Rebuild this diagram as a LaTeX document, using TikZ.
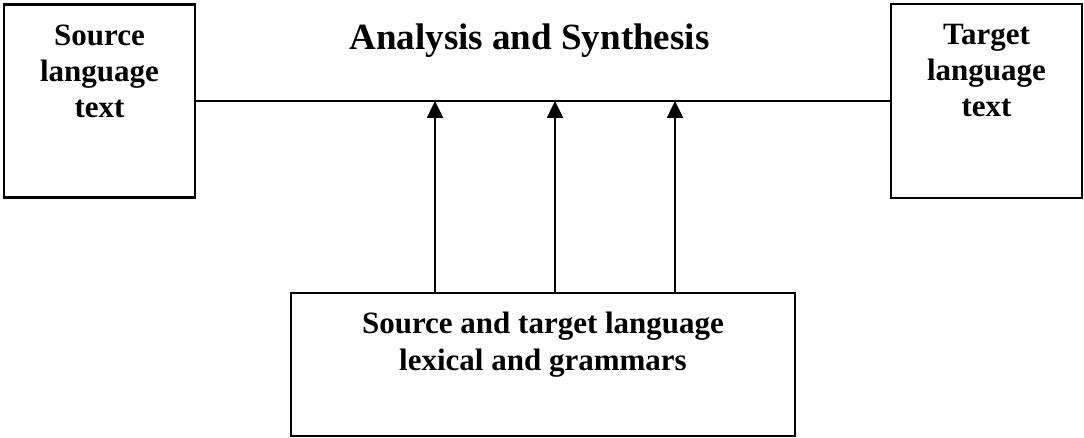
\documentclass[tikz,border=0pt]{standalone}
\usepackage{fontspec}
\setmainfont{Liberation Serif}
\usetikzlibrary{arrows.meta}
\tikzset{
  box/.style={draw, line width=2.8pt, rectangle, inner sep=0pt},
  lbl/.style={font=\fontsize{31}{36}\selectfont\bfseries, align=center, anchor=base, inner sep=0pt},
  link/.style={line width=2pt},
  arr/.style={line width=2.5pt, -{Triangle[length=17pt,width=16pt]}}
}
\begin{document}
\begin{tikzpicture}[x=1pt,y=-1pt]
\useasboundingbox (0,0) rectangle (1084,438);
\node[box, minimum width=191pt, minimum height=193pt] (L) at (99.5,101) {};
\node[box, minimum width=191pt, minimum height=194pt] (R) at (986.5,101) {};
\node[box, minimum width=504pt, minimum height=143pt] (B) at (543,364.5) {};
\node[lbl] (Lt) at (99.5,118) {Source\\language\\text};
\node[lbl] (Rt) at (986.5,117) {Target\\language\\text};
\node[lbl, font=\fontsize{37}{40}\selectfont\bfseries] (T) at (529.5,50) {Analysis and Synthesis};
\node[lbl] (Bt) at (543,370) {Source and target language\\lexical and grammars};
\draw[link] (L.east) -- (R.west);
\coordinate (a1) at (435,101);
\coordinate (a2) at (555,101);
\coordinate (a3) at (675,101);
\draw[arr] (B.north -| a1) -- (a1);
\draw[arr] (B.north -| a2) -- (a2);
\draw[arr] (B.north -| a3) -- (a3);
\end{tikzpicture}
\end{document}
